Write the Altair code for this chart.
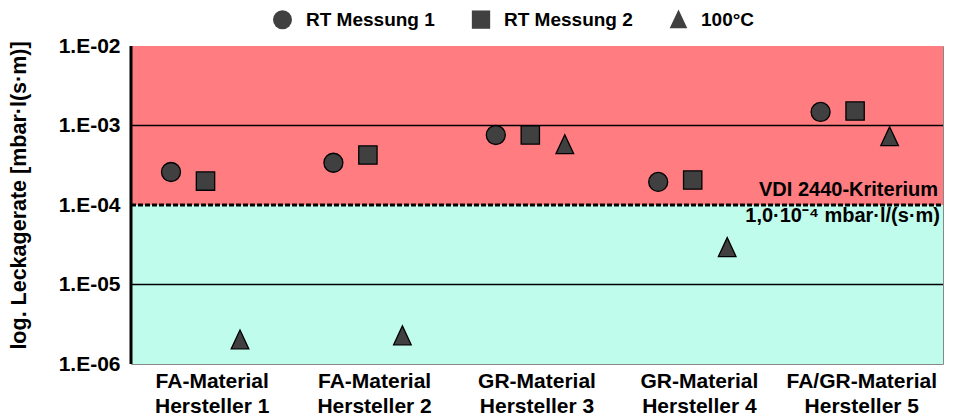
import altair as alt
import pandas as pd

categories = ["FA-Material|Hersteller 1", "FA-Material|Hersteller 2", "GR-Material|Hersteller 3",
              "GR-Material|Hersteller 4", "FA/GR-Material|Hersteller 5"]
series = ["RT Messung 1", "RT Messung 2", "100°C"]
rt1 = [2.6e-4, 3.4e-4, 7.6e-4, 1.95e-4, 1.48e-3]
rt2 = [2.0e-4, 4.25e-4, 7.6e-4, 2.06e-4, 1.52e-3]
hot = [2.0e-6, 2.25e-6, 5.7e-4, 2.9e-5, 7.2e-4]
y_ticks = [1e-6, 1e-5, 1e-4, 1e-3, 1e-2]

rows = []
for vals, s in zip([rt1, rt2, hot], series):
    for c, v in zip(categories, vals):
        rows.append({"cat": c, "series": s, "value": v})
df = pd.DataFrame(rows)

W, H = 812, 318
FONT = "Liberation Sans"
TRI = "M0,-1.15L1,1L-1,1Z"

yscale = alt.Scale(type="log", domain=[1e-6, 1e-2])

zones = pd.DataFrame({"lo": [1e-4, 1e-6], "hi": [1e-2, 1e-4], "zone": ["red", "green"]})
bg = alt.Chart(zones).mark_rect().encode(
    x=alt.value(0), x2=alt.value(W),
    y=alt.Y("lo:Q", scale=yscale, axis=alt.Axis(
        values=y_ticks, labelExpr="'1.E-0' + format(-log(datum.value)/LN10, '.0f')",
        labelFont=FONT, labelFontSize=21, labelFontWeight="bold", labelColor="black",
        labelPadding=11, ticks=False, domain=False, grid=False,
        title="log. Leckagerate [mbar·l(s·m)]", titleFont=FONT, titleFontSize=21.5,
        titleFontWeight="bold", titleColor="black", titleX=-112, titleY=149,
        titleAngle=-90, titleAlign="center", titleBaseline="middle")),
    y2="hi:Q",
    color=alt.Color("zone:N", scale=alt.Scale(domain=["red", "green"], range=["#FF7C80", "#C0FCEC"]), legend=None),
)

grid_df = pd.DataFrame({"v": [1e-3, 1e-5]})
grid = alt.Chart(grid_df).mark_rule(color="black", strokeWidth=1.5).encode(
    y=alt.Y("v:Q", scale=yscale), x=alt.value(0), x2=alt.value(W))

crit_df = pd.DataFrame({"v": [1e-4]})
crit = alt.Chart(crit_df).mark_rule(color="black", strokeWidth=3, strokeDash=[5, 2]).encode(
    y=alt.Y("v:Q", scale=yscale), x=alt.value(0), x2=alt.value(W))

crit_text = ["VDI 2440-Kriterium", "1,0·10⁻⁴ mbar·l/(s·m)"]
lab1 = alt.Chart(pd.DataFrame({"v": [1e-4], "t": [crit_text[0]]})).mark_text(
    align="right", baseline="middle", font=FONT, fontSize=20, fontWeight="bold", color="black", dy=-15
).encode(y=alt.Y("v:Q", scale=yscale), x=alt.value(W - 5), text="t:N")
lab2 = alt.Chart(pd.DataFrame({"v": [1e-4], "t": [crit_text[1]]})).mark_text(
    align="right", baseline="middle", font=FONT, fontSize=20, fontWeight="bold", color="black", dy=11
).encode(y=alt.Y("v:Q", scale=yscale), x=alt.value(W - 3), text="t:N")

legend_cfg = dict(title=None, orient="none", legendX=141, legendY=-37,
                  direction="horizontal", labelFont=FONT, labelFontSize=19,
                  labelFontWeight="bold", labelColor="black",
                  symbolFillColor="#404040", symbolStrokeColor="black",
                  symbolStrokeWidth=1.3, labelOffset=13, columnPadding=34)

pts = alt.Chart(df).mark_point(filled=True, fill="#404040", stroke="black", strokeWidth=1.3, opacity=1).encode(
    x=alt.X("cat:N", sort=categories, scale=alt.Scale(paddingInner=0, paddingOuter=0),
            axis=alt.Axis(labelExpr="split(datum.label, '|')", labelFont=FONT, labelFontSize=21,
                          labelFontWeight="bold", labelColor="black", labelAngle=0, ticks=False,
                          domain=False, labelPadding=6, labelLineHeight=25, title=None)),
    xOffset=alt.XOffset("series:N", sort=series,
                        scale=alt.Scale(type="point", range=[40, 109], padding=0)),
    y=alt.Y("value:Q", scale=yscale),
    shape=alt.Shape("series:N", sort=series,
                    scale=alt.Scale(domain=series, range=["circle", "square", TRI]),
                    legend=alt.Legend(**legend_cfg)),
    size=alt.Size("series:N", sort=series, scale=alt.Scale(domain=series, range=[361, 310, 529]),
                  legend=alt.Legend(**legend_cfg)),
)

border_left = alt.Chart(pd.DataFrame({"a": [0]})).mark_rule(color="black", strokeWidth=3).encode(
    x=alt.value(0), y=alt.value(0), y2=alt.value(H))

chart = alt.layer(bg, grid, crit, lab1, lab2, pts, border_left).properties(
    width=W, height=H,
    autosize=alt.AutoSizeParams(type="none"),
    padding={"left": 123, "top": 38, "right": 2, "bottom": 52},
).configure_view(stroke="#888888", strokeWidth=1)

chart.save("out.html", embed_options={"renderer": "svg", "actions": False})
